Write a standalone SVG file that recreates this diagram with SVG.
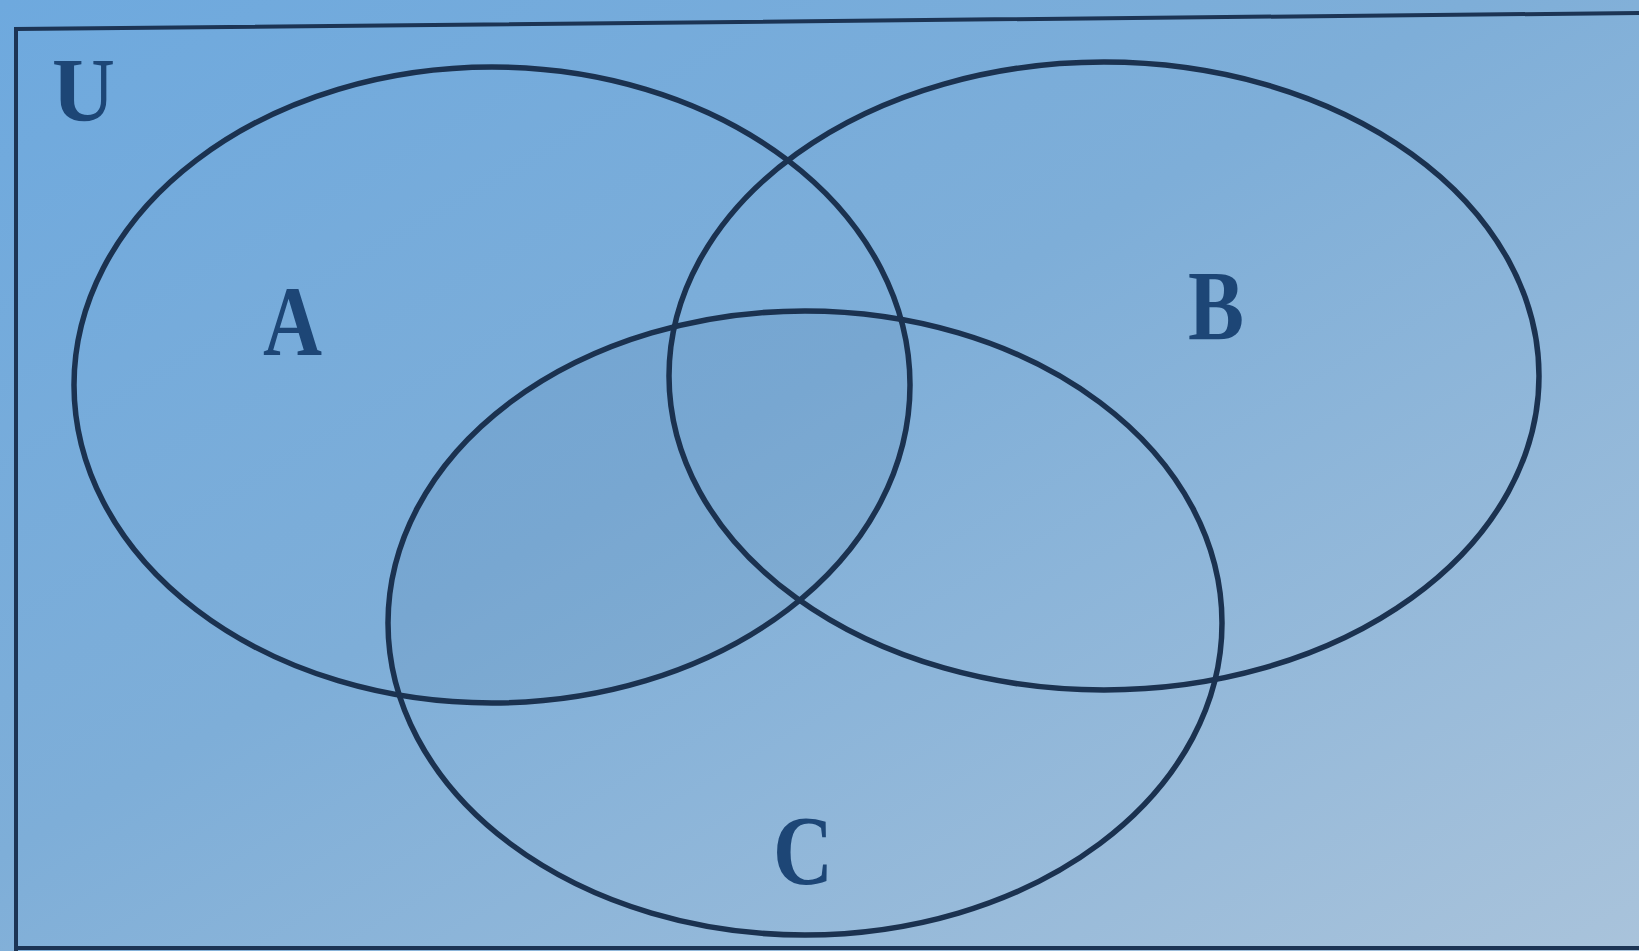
<svg xmlns="http://www.w3.org/2000/svg" width="1639" height="951" viewBox="0 0 1639 951">
  <defs>
    <linearGradient id="paper" x1="0" y1="0" x2="1" y2="1">
      <stop offset="0" stop-color="#6ea9de"/>
      <stop offset="0.45" stop-color="#7eaed8"/>
      <stop offset="1" stop-color="#a9c3db"/>
    </linearGradient>
    <clipPath id="clipA">
      <ellipse cx="492" cy="385" rx="418" ry="318"/>
    </clipPath>
  </defs>
  <style>
    .set { fill: none; stroke: #1b3250; stroke-width: 5.5; }
    .frame { fill: none; stroke: #1c3454; stroke-width: 4; }
    .lbl { font-family: "Liberation Serif", "DejaVu Serif", serif; font-weight: bold; fill: #1d4676; }
  </style>

  <rect x="0" y="0" width="1639" height="951" fill="url(#paper)"/>
  <ellipse cx="805" cy="623" rx="417" ry="312" fill="#2a4f7a" opacity="0.07" clip-path="url(#clipA)"/>

  <g id="universe">
    <path class="frame" d="M16 951 L16 29 L1639 13"/>
    <line class="frame" x1="16" y1="948" x2="1639" y2="948"/>
    <text class="lbl" x="52" y="121" font-size="90" textLength="63" lengthAdjust="spacingAndGlyphs" fill="#1b3a66">U</text>
  </g>

  <g id="set-A">
    <ellipse class="set" cx="492" cy="385" rx="418" ry="318"/>
    <text class="lbl" x="263" y="355" font-size="100" textLength="59" lengthAdjust="spacingAndGlyphs">A</text>
  </g>

  <g id="set-B">
    <ellipse class="set" cx="1104" cy="376" rx="435" ry="314"/>
    <text class="lbl" x="1188" y="339" font-size="100" textLength="56" lengthAdjust="spacingAndGlyphs">B</text>
  </g>

  <g id="set-C">
    <ellipse class="set" cx="805" cy="623" rx="417" ry="312"/>
    <text class="lbl" x="773" y="884" font-size="100" textLength="60" lengthAdjust="spacingAndGlyphs" fill="#1b3a66">C</text>
  </g>

  <g id="connectors"/>
</svg>
